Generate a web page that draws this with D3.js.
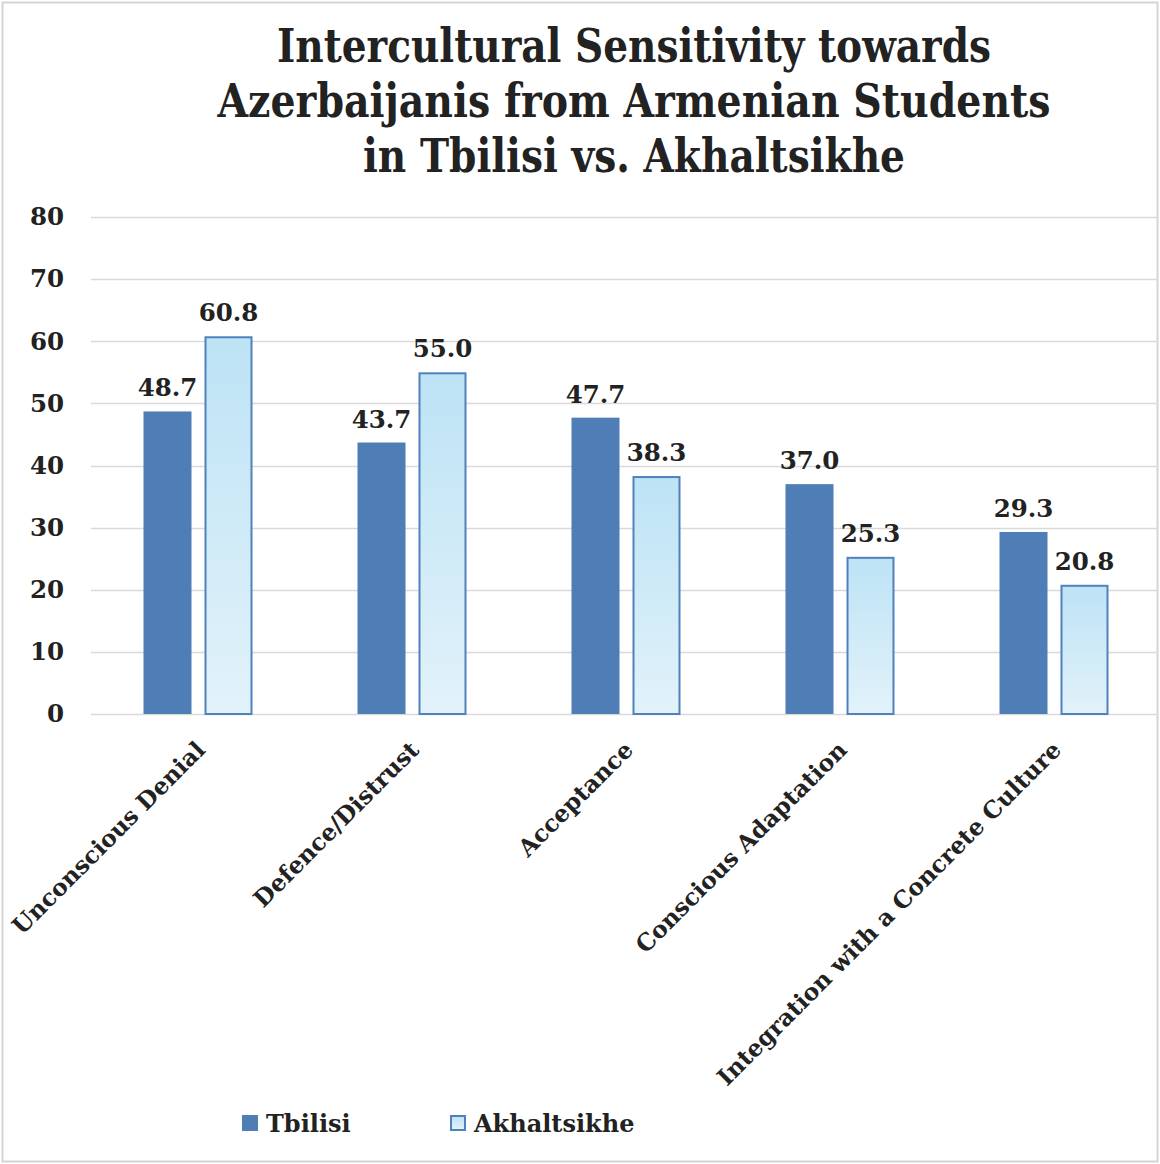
<!DOCTYPE html>
<html>
<head>
<meta charset="utf-8">
<script src="https://cdn.jsdelivr.net/npm/d3@7"></script>
<style>
  html, body { margin: 0; padding: 0; background: #fff; }
  svg { display: block; }
  text { font-family: "DejaVu Serif", serif; font-weight: bold; fill: #222; }
</style>
</head>
<body>
<script>
// Intercultural sensitivity scores (%) by stage, per city
const categories = ["Unconscious Denial", "Defence/Distrust", "Acceptance", "Conscious Adaptation", "Integration with a Concrete Culture"];
const seriesNames = ["Tbilisi", "Akhaltsikhe"];
const tbilisi = [48.7, 43.7, 47.7, 37.0, 29.3];
const akhaltsikhe = [60.8, 55.0, 38.3, 25.3, 20.8];
const yTicks = [0, 10, 20, 30, 40, 50, 60, 70, 80];
const titleLines = ["Intercultural Sensitivity towards", "Azerbaijanis from Armenian Students", "in Tbilisi vs. Akhaltsikhe"];

const W = 1160, H = 1164;
const svg = d3.select("body").append("svg").attr("width", W).attr("height", H);

// gradient for the Akhaltsikhe bars
const defs = svg.append("defs");
const grad = defs.append("linearGradient").attr("id", "lightGrad")
  .attr("x1", 0).attr("y1", 0).attr("x2", 0).attr("y2", 1);
grad.append("stop").attr("offset", "0%").attr("stop-color", "#bde3f5");
grad.append("stop").attr("offset", "100%").attr("stop-color", "#e2f2fa");

// outer frame
svg.append("rect").attr("x", 2.5).attr("y", 2.5).attr("width", W - 5).attr("height", H - 5)
  .attr("fill", "#fff").attr("stroke", "#d4d4d4").attr("stroke-width", 2);

// title
const titleWidths = [714, 833, 542];
const titleBase = [62, 117, 172];
svg.append("g").selectAll("text").data(titleLines).join("text")
  .attr("x", 634).attr("y", (d, i) => titleBase[i])
  .attr("text-anchor", "middle")
  .attr("font-family", "'DejaVu Serif Condensed', 'DejaVu Serif', serif")
  .attr("font-size", 46)
  .attr("textLength", (d, i) => titleWidths[i])
  .attr("lengthAdjust", "spacingAndGlyphs")
  .text(d => d);

// scales
const x0 = d3.scaleBand().domain(categories).range([91, 1161]).paddingInner(0).paddingOuter(0);
const y = d3.scaleLinear().domain([0, 80]).range([714, 217]);
const barW = 48, gap = 13;

// gridlines
svg.append("g").selectAll("line").data(yTicks).join("line")
  .attr("x1", 91).attr("x2", 1158)
  .attr("y1", d => Math.round(y(d)) + 0.5).attr("y2", d => Math.round(y(d)) + 0.5)
  .attr("stroke", "#d9d9d9").attr("stroke-width", 1.3);

// y axis labels
const yAxis = d3.axisLeft(y).tickValues(yTicks).tickSize(0).tickPadding(0);
const yg = svg.append("g").attr("transform", "translate(64,0)").call(yAxis);
yg.select(".domain").remove();
yg.selectAll("text").attr("font-size", 24.5).attr("fill", "#222")
  .attr("font-family", "'DejaVu Serif', serif").attr("font-weight", "bold");

// bars
const cx = c => x0(c) + x0.bandwidth() / 2;
const rows = categories.map((c, i) => ({ c, t: tbilisi[i], a: akhaltsikhe[i] }));

svg.append("g").selectAll("rect").data(rows).join("rect")
  .attr("x", d => cx(d.c) - gap / 2 - barW)
  .attr("y", d => y(d.t)).attr("width", barW).attr("height", d => y(0) - y(d.t))
  .attr("fill", "#4f7db5");

svg.append("g").selectAll("rect").data(rows).join("rect")
  .attr("x", d => cx(d.c) + gap / 2 + 1)
  .attr("y", d => y(d.a) + 1).attr("width", barW - 2).attr("height", d => y(0) - y(d.a) - 1)
  .attr("fill", "url(#lightGrad)").attr("stroke", "#4f81bd").attr("stroke-width", 2);

// value labels
const fmt = d3.format(".1f");
svg.append("g").selectAll("text").data(rows).join("text")
  .attr("x", d => cx(d.c) - gap / 2 - barW / 2).attr("y", d => y(d.t) - 15)
  .attr("text-anchor", "middle").attr("font-size", 24.5).text(d => fmt(d.t));
svg.append("g").selectAll("text").data(rows).join("text")
  .attr("x", d => cx(d.c) + gap / 2 + barW / 2).attr("y", d => y(d.a) - 15)
  .attr("text-anchor", "middle").attr("font-size", 24.5).text(d => fmt(d.a));

// category labels
svg.append("g").selectAll("text").data(categories).join("text")
  .attr("transform", d => `translate(${cx(d) - 4},${739}) rotate(-45)`)
  .attr("text-anchor", "end").attr("dy", "0.75em")
  .attr("font-family", "'DejaVu Serif Condensed', 'DejaVu Serif', serif")
  .attr("font-size", 23.5)
  .text(d => d);

// legend
const legend = svg.append("g");
const legX = [242, 450];
seriesNames.forEach((s, i) => {
  legend.append("rect").attr("x", legX[i] + (i ? 1 : 0)).attr("y", 1115 + (i ? 1 : 0))
    .attr("width", i ? 14 : 16).attr("height", i ? 14 : 16)
    .attr("fill", i ? "url(#lightGrad)" : "#4f7db5")
    .attr("stroke", i ? "#4f81bd" : "none").attr("stroke-width", 2);
  legend.append("text").attr("x", legX[i] + 24).attr("y", 1132)
    .attr("font-size", 24).attr("font-family", "'DejaVu Serif Condensed', 'DejaVu Serif', serif")
    .text(s);
});
</script>
</body>
</html>
